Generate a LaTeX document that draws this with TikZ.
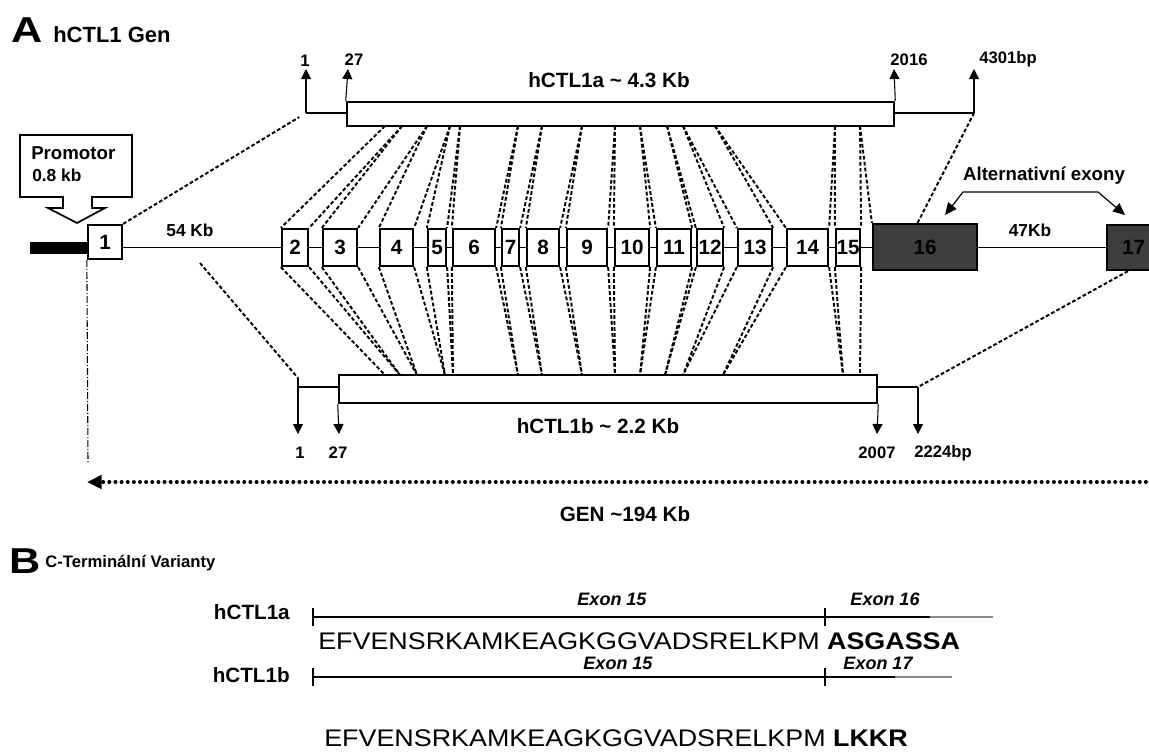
\documentclass[tikz,border=0pt]{standalone}
\usepackage{fontspec}
\usepackage{graphicx}
\setmainfont{Liberation Sans}
\usetikzlibrary{arrows.meta,calc}
\pgfdeclarelayer{bg}
\pgfsetlayers{bg,main}
\newcommand{\fsz}[1]{\fontsize{#1}{#1}\selectfont}
\begin{document}
\begin{tikzpicture}[x=0.75pt,y=-0.75pt,
  sz/.style 2 args={minimum width=#1*0.75pt, minimum height=#2*0.75pt},
  exonbox/.style={draw, line width=1.7pt, fill=white, inner sep=0pt, font=\fsz{15.5}\bfseries},
  darkexon/.style={exonbox, fill=black!76},
  bar/.style={draw, line width=1.9pt, fill=white, inner sep=0pt},
  conn/.style={line width=1.45pt, dash pattern=on 2.8pt off 1.7pt},
  intron/.style={line width=1.2pt},
  tailline/.style={line width=1.6pt},
  posarrow/.style={line width=0.8pt, -{Triangle[length=7.5pt,width=7.5pt]}},
  num/.style={font=\fsz{12.5}\bfseries, inner sep=0pt},
  lab/.style={font=\fsz{15.5}\bfseries, inner sep=0pt},
  kb/.style={font=\fsz{13}\bfseries, inner sep=0pt},
  exlab/.style={font=\fsz{13.5}\bfseries\itshape, inner sep=0pt},
  rowlab/.style={font=\fsz{15.5}\bfseries, anchor=east, inner sep=0pt},
  seq/.style={font=\fsz{18}, anchor=west, inner sep=0pt},
  seqline/.style={line width=1.2pt},
  seqfade/.style={line width=0.8pt, black!45},
  panel/.style={font=\fsz{27}\bfseries, inner sep=0pt}
]
\begin{pgfonlayer}{bg}
\fill[white] (0,0) rectangle (1149,754);
\end{pgfonlayer}
\useasboundingbox (0,0) rectangle (1149,754);
\clip (0,0) rectangle (1149,754);

% ---------- titles ----------
\node[panel] (tA) at (27,30) {\scalebox{1.2}[1]{A}};
\node[font=\fsz{16.5}\bfseries, anchor=west, inner sep=0pt] (tAg) at (53,35) {hCTL1 Gen};

% ---------- promoter ----------
\node[fill=black, inner sep=0pt, sz={58}{12}] (pb) at (59,248) {};
\draw[line width=1.3pt, fill=white] (20,135) -- (132,135) -- (132,197) -- (92,197) -- (92,208) -- (105,208) -- (77,223) -- (48,208) -- (63,208) -- (63,197) -- (20,197) -- cycle;
\node[font=\fsz{14}\bfseries, anchor=west, inner sep=0pt] (prm) at (31,153) {Promotor};
\node[font=\fsz{13}\bfseries, anchor=west, inner sep=0pt] (prk) at (32,175) {0.8 kb};

% ---------- exons ----------
\node[exonbox, sz={34}{34}] (e1) at (105,242) {1};
\node[exonbox, sz={26}{37}] (e2) at (295,247.5) {2};
\node[exonbox, sz={34}{37}] (e3) at (340,247.5) {3};
\node[exonbox, sz={33}{37}] (e4) at (396.5,247.5) {4};
\node[exonbox, sz={18}{37}] (e5) at (437,247.5) {5};
\node[exonbox, sz={42}{37}] (e6) at (474,247.5) {6};
\node[exonbox, sz={17}{37}] (e7) at (510.5,247.5) {7};
\node[exonbox, sz={32}{37}] (e8) at (543,247.5) {8};
\node[exonbox, sz={40}{37}] (e9) at (587,247.5) {9};
\node[exonbox, sz={34}{37}] (e10) at (632,247.5) {10};
\node[exonbox, sz={34}{37}] (e11) at (674,247.5) {11};
\node[exonbox, sz={26}{37}] (e12) at (710,247.5) {12};
\node[exonbox, sz={34}{37}] (e13) at (755,247.5) {13};
\node[exonbox, sz={41}{37}] (e14) at (807.5,247.5) {14};
\node[exonbox, sz={24}{37}] (e15) at (848,247.5) {15};
\node[darkexon, sz={104}{46}] (e16) at (925,247) {16};
\node[darkexon, sz={53}{45}] (e17) at (1133.5,247.5) {17};

\node[kb] (k54) at (190,230) {54 Kb};
\node[kb] (k47) at (1030,230) {47Kb};

% ---------- transcripts ----------
\node[bar, sz={547}{24}] (ta) at (620.5,114) {};
\node[bar, sz={538}{28}] (tb) at (608,389) {};
\node[lab] (lta) at (609,80) {hCTL1a \textasciitilde{} 4.3 Kb};
\node[lab] (ltb) at (598,426) {hCTL1b \textasciitilde{} 2.2 Kb};

% top positions
\coordinate (tl) at (306,113);
\coordinate (tr) at (974,113);
\coordinate (tip1) at (306,69);
\coordinate (tip27) at (348,69);
\coordinate (tip2016) at (894,69);
\coordinate (tip4301) at (974,69);
\node[num] (u1) at (305,61) {1};
\node[num] (u27) at (354,60) {27};
\node[num] (u2016) at (909,60) {2016};
\node[num] (u4301) at (1008,59) {4301bp};
\draw[tailline] (tl) -- (tl -| ta.west);
\draw[tailline] (tl -| ta.east) -- (tr);
\draw[posarrow] (tl) -- (tip1);
\draw[posarrow] (ta.north west) -- (tip27);
\draw[posarrow] (ta.north east) -- (tip2016);
\draw[posarrow] (tr) -- (tip4301);

% bottom positions
\coordinate (bl0) at (298,378);
\coordinate (bl) at (298,387);
\coordinate (br) at (918,387);
\coordinate (dtip1) at (298,434);
\coordinate (dtip27) at (339,434);
\coordinate (dtip2007) at (877,434);
\coordinate (dtip2224) at (918,434);
\node[num] (d1) at (300,453) {1};
\node[num] (d27) at (338,453) {27};
\node[num] (d2007) at (877,453) {2007};
\node[num] (d2224) at (943,453) {2224bp};
\draw[tailline] (bl) -- (bl -| tb.west);
\draw[tailline] (bl -| tb.east) -- (br);
\draw[posarrow] (bl0) -- (dtip1);
\draw[posarrow] (tb.south west) -- (dtip27);
\draw[posarrow] (tb.south east) -- (dtip2007);
\draw[posarrow] (br) -- (dtip2224);

% alternative exons
\node[font=\fsz{14}\bfseries, inner sep=0pt] (alt) at (1044,176) {Alternativní exony};
\coordinate (alL) at (963,192);
\coordinate (alR) at (1098,192);
\coordinate (a16) at (945,215);
\coordinate (a17) at (1125,215);
\draw[line width=0.9pt, {Triangle[length=9pt,width=8pt]}-{Triangle[length=9pt,width=8pt]}] (a16) -- (alL) -- (alR) -- (a17);

% genome arrow
\coordinate (gR) at (1152,482);
\coordinate (gL) at (87,482);
\coordinate (vb) at (88,462);
\draw[line width=3pt, line cap=round, dash pattern=on 0pt off 4.6pt, -{Triangle[length=11pt,width=10pt]}] (gR) -- (gL);
\draw[line width=0.8pt, dash pattern=on 5pt off 1.5pt on 1pt off 1.5pt] (e1.south west) -- (vb);
\node[lab] (gen) at (625,514) {GEN \textasciitilde194 Kb};

% ---------- connectors (background) ----------
\begin{pgfonlayer}{bg}
\draw[intron] (e1.east |- e2.west) -- (e17.west |- e2.west);
\foreach \k/\xt/\xb in {2/402/400,3/427/417,4/450/445,5/460/453,6/518/518,7/542/542,8/582/582,9/615/615,10/640/640,11/667/665,12/683/683,13/715/723,14/835/843}{
  \pgfmathtruncatemacro{\kn}{\k+1}
  \coordinate (jt\k) at (\xt,126);
  \coordinate (jb\k) at (\xb,375);
  \draw[conn] (jt\k) -- (e\k.north east);
  \draw[conn] (jt\k) -- (e\kn.north west);
  \draw[conn] (e\k.south east) -- (jb\k);
  \draw[conn] (e\kn.south west) -- (jb\k);
}
\coordinate (jt1) at (385,126);
\coordinate (jb1) at (385,375);
\draw[conn] (jt1) -- (e2.north west);
\draw[conn] (e2.south west) -- (jb1);
\coordinate (jt15) at (860,126);
\coordinate (jb15) at (860,375);
\draw[conn] (jt15) -- (e15.north east);
\draw[conn] (jt15) -- (e16.north west);
\draw[conn] (e15.south east) -- (jb15);
\draw[conn, shorten >=6pt] (e1.north east) -- (tl);
\draw[conn] ($(e16.north west)!0.43!(e16.north east)$) -- (tr);
\coordinate (lb0) at (200,263);
\draw[conn] (lb0) -- (bl0);
\draw[conn] ($(e17.south west)!0.4!(e17.south east)$) -- (br);
\end{pgfonlayer}

% ---------- part B ----------
\node[panel] (tB) at (25,561) {\scalebox{1.2}[1]{B}};
\node[font=\fsz{12.5}\bfseries, anchor=west, inner sep=0pt] (tBc) at (45,563) {C-Terminální Varianty};

\node[rowlab] (ra) at (290,612) {hCTL1a};
\node[rowlab] (rb) at (290,675) {hCTL1b};

\coordinate (a0) at (313,617);
\coordinate (am) at (825,617);
\coordinate (a1) at (930,617);
\coordinate (a2) at (993,617);
\draw[seqline] (a0) -- (a1);
\draw[seqfade] (a1) -- (a2);
\draw[seqline] ($(a0)+(0,-9)$) -- ($(a0)+(0,9)$);
\draw[seqline] ($(am)+(0,-9)$) -- ($(am)+(0,9)$);
\node[exlab] (x15a) at (612,599) {Exon 15};
\node[exlab] (x16) at (885,599) {Exon 16};
\node[seq] (sa) at (318,641) {\scalebox{1.12}[1]{EFVENSRKAMKEAGKGGVADSRELKPM \textbf{ASGASSA}}};

\coordinate (b0) at (313,677);
\coordinate (bm) at (825,677);
\coordinate (b1) at (895,677);
\coordinate (b2) at (952,677);
\draw[seqline] (b0) -- (b1);
\draw[seqfade] (b1) -- (b2);
\draw[seqline] ($(b0)+(0,-9)$) -- ($(b0)+(0,9)$);
\draw[seqline] ($(bm)+(0,-9)$) -- ($(bm)+(0,9)$);
\node[exlab] (x15b) at (618,663) {Exon 15};
\node[exlab] (x17) at (878,663) {Exon 17};
\node[seq] (sb) at (324,738) {\scalebox{1.12}[1]{EFVENSRKAMKEAGKGGVADSRELKPM \textbf{LKKR}}};
\end{tikzpicture}
\end{document}
